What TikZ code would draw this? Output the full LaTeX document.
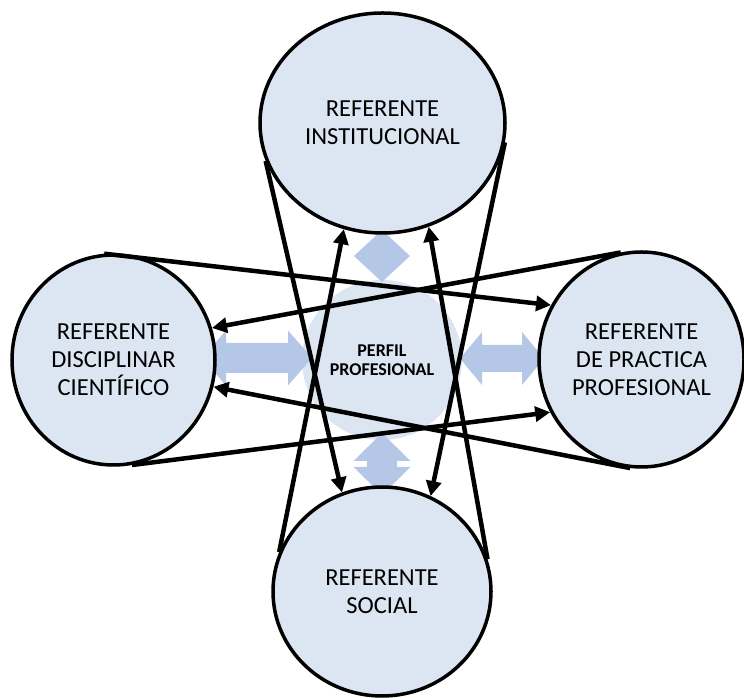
\documentclass[tikz,border=0pt]{standalone}
\usepackage{fontspec}
\setmainfont{Carlito}
\definecolor{refblue}{RGB}{220, 230, 242}
\definecolor{flowblue}{RGB}{180, 199, 231}
\usetikzlibrary{shapes.geometric, arrows.meta, positioning}

\begin{document}
\begin{tikzpicture}[x=1pt, y=1pt,
  referente/.style={ellipse, draw=black, line width=3.5pt, fill=refblue, inner sep=0pt, align=center, font=\fontsize{24.5}{28}\selectfont},
  enlace/.style={line width=4.5pt, -{Triangle[length=15pt, width=15pt]}},
  flecha/.style={fill=flowblue}]
  \useasboundingbox (0,0) rectangle (744,698);

  % Central profile
  \node[circle, fill=refblue, minimum size=160pt, inner sep=0pt, align=center, font=\bfseries\fontsize{18}{19}\selectfont] (perfil) at (382,338) {PERFIL\\PROFESIONAL};

  % Block arrows towards the profile
  \fill[flecha] (202,340) -- (226,367.5) -- (226,355) -- (288,355) -- (288,367.5) -- (312,340) -- (288,312.5) -- (288,325) -- (226,325) -- (226,312.5) -- cycle;
  \fill[flecha] (460,339.5) -- (482,366) -- (482,353) -- (522,353) -- (522,366) -- (544,339.5) -- (522,313) -- (522,326) -- (482,326) -- (482,313) -- cycle;
  \fill[flecha] (382,416) -- (410,442) -- (382,468) -- (354,442) -- cycle;
  \fill[flecha] (382,265) -- (410.5,237) -- (397,237) -- (397,231) -- (410.5,231) -- (382,203) -- (353.5,231) -- (367,231) -- (367,237) -- (353.5,237) -- cycle;

  % The four referents
  \node[referente, minimum width=245pt, minimum height=220pt] (inst) at (382.5,575) {REFERENTE\\INSTITUCIONAL};
  \node[referente, minimum width=203pt, minimum height=210pt] (disc) at (113.5,338) {REFERENTE\\DISCIPLINAR\\CIENTÍFICO};
  \node[referente, minimum width=205pt, minimum height=215pt] (prac) at (641.5,338.5) {REFERENTE\\DE PRACTICA\\PROFESIONAL};
  \node[referente, minimum width=218pt, minimum height=209pt] (soc) at (382,106.5) {REFERENTE\\SOCIAL};

  % Links between referents
  \draw[enlace] (disc.95) -- (prac.149);
  \draw[enlace] (prac.101) -- (disc.18);
  \draw[enlace] (disc.-80) -- (prac.-150);
  \draw[enlace] (prac.264) -- (disc.-15);
  \draw[enlace] (inst.198) -- (soc.112);
  \draw[enlace] (soc.159) -- (inst.250);
  \draw[enlace] (inst.-9) -- (soc.63);
  \draw[enlace] (soc.17) -- (inst.294);
\end{tikzpicture}
\end{document}
